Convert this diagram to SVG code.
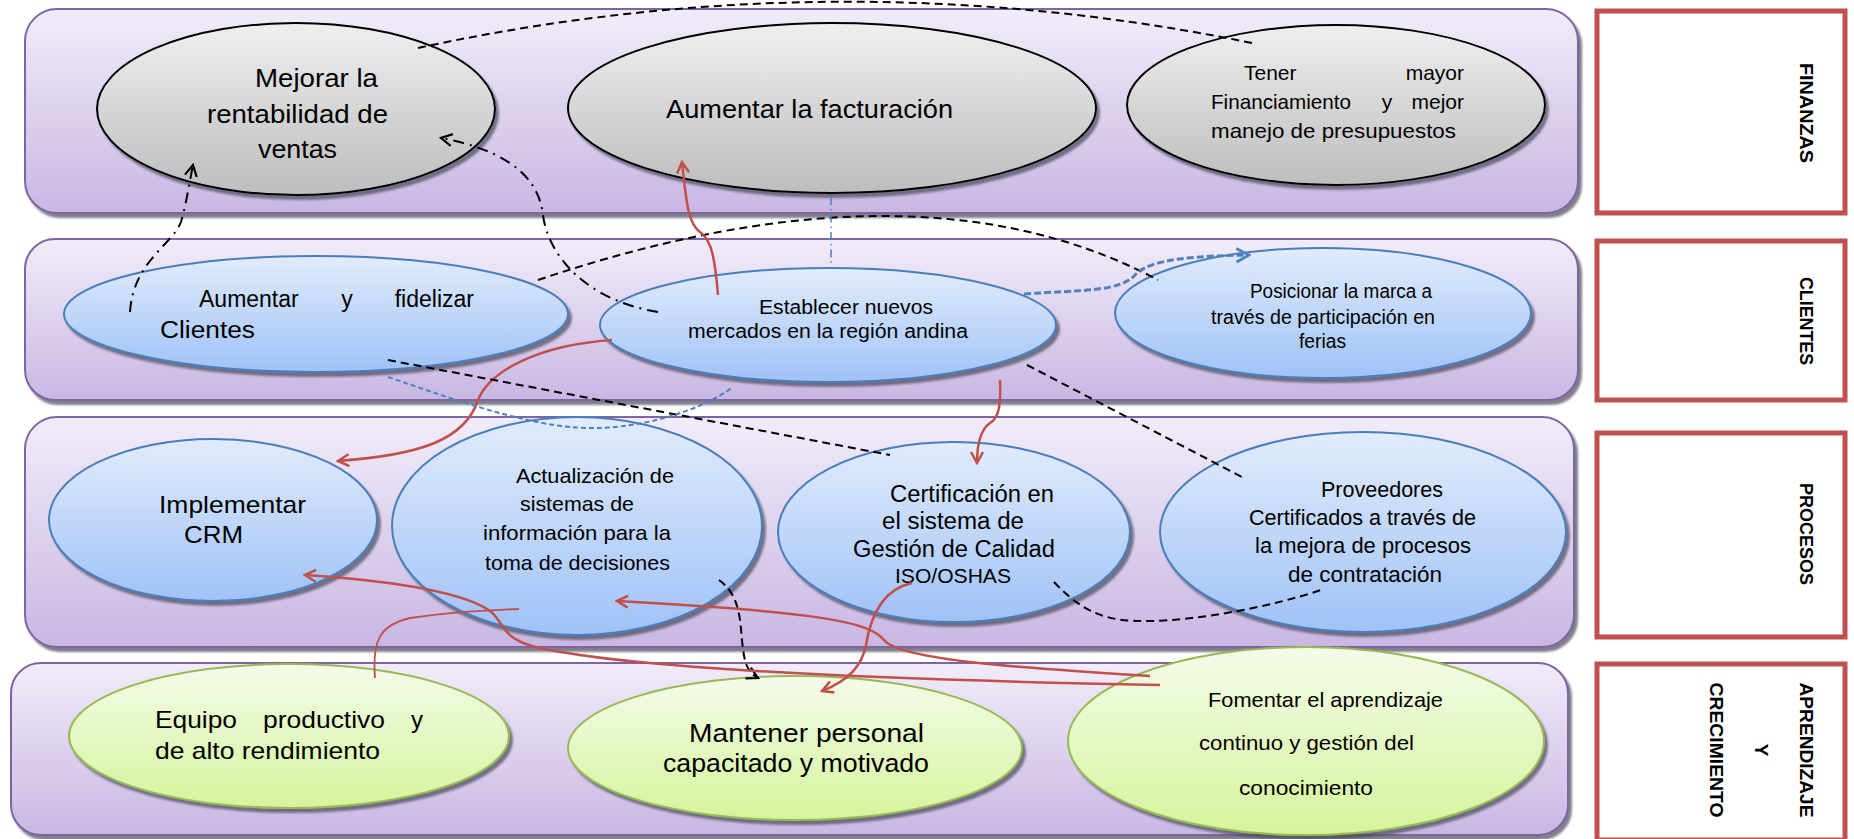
<svg xmlns="http://www.w3.org/2000/svg" width="1854" height="839" viewBox="0 0 1854 839">
  <defs>
    <linearGradient id="gBand" x1="0" y1="0" x2="0" y2="1">
      <stop offset="0" stop-color="#F1ECF9"/>
      <stop offset="1" stop-color="#C9B7E3"/>
    </linearGradient>
    <linearGradient id="gGray" x1="0" y1="0" x2="0" y2="1">
      <stop offset="0" stop-color="#EFEFEF"/>
      <stop offset="1" stop-color="#BDBDBD"/>
    </linearGradient>
    <linearGradient id="gBlue" x1="0" y1="0" x2="0" y2="1">
      <stop offset="0" stop-color="#E1ECFC"/>
      <stop offset="1" stop-color="#A0C2F7"/>
    </linearGradient>
    <linearGradient id="gGreen" x1="0" y1="0" x2="0" y2="1">
      <stop offset="0" stop-color="#F4FBEA"/>
      <stop offset="1" stop-color="#D5F49B"/>
    </linearGradient>
    <filter id="shadow" x="-10%" y="-10%" width="125%" height="130%">
      <feDropShadow dx="3" dy="4" stdDeviation="1.2" flood-color="#4a4a5a" flood-opacity="0.7"/>
    </filter>
    <marker id="arRed" viewBox="0 0 14 14" refX="12" refY="7" markerWidth="14" markerHeight="14" markerUnits="userSpaceOnUse" orient="auto">
      <path d="M1,1 L12,7 L1,13" fill="none" stroke="#C0504D" stroke-width="2.5"/>
    </marker>
    <marker id="arBlack" viewBox="0 0 14 14" refX="12" refY="7" markerWidth="14" markerHeight="14" markerUnits="userSpaceOnUse" orient="auto">
      <path d="M1,1 L12,7 L1,13" fill="none" stroke="#000" stroke-width="2.2"/>
    </marker>
    <marker id="arBlue" viewBox="0 0 14 14" refX="12" refY="7" markerWidth="16" markerHeight="16" markerUnits="userSpaceOnUse" orient="auto">
      <path d="M1,1 L12,7 L1,13" fill="none" stroke="#4F81BD" stroke-width="2.5"/>
    </marker>
  </defs>
  <style>
    .band { fill: url(#gBand); stroke: #8064A2; stroke-width: 2; filter: url(#shadow); }
    .gray { fill: url(#gGray); stroke: #000; stroke-width: 2; filter: url(#shadow); }
    .blue { fill: url(#gBlue); stroke: #4A7EBB; stroke-width: 2; filter: url(#shadow); }
    .green { fill: url(#gGreen); stroke: #98B954; stroke-width: 2; filter: url(#shadow); }
    .lbox { fill: #fff; stroke: #C0504D; stroke-width: 5; }
    text { font-family: "Liberation Sans", Arial, sans-serif; fill: #000; }
    .lab { font-weight: bold; font-size: 19px; }
    .red { fill: none; stroke: #C0504D; stroke-width: 2.5; }
    .redThin { fill: none; stroke: #C0504D; stroke-width: 1.8; }
    .dash { fill: none; stroke: #000; stroke-width: 2; stroke-dasharray: 8 5; }
    .dashDot { fill: none; stroke: #000; stroke-width: 2; stroke-dasharray: 11 6 2 6; }
    .blueDash { fill: none; stroke: #4F81BD; stroke-width: 3; stroke-dasharray: 7 3; }
    .blueThin { fill: none; stroke: #4F81BD; stroke-width: 2; stroke-dasharray: 5 3; }
    .blueDashDot { fill: none; stroke: #4F81BD; stroke-width: 1.5; stroke-dasharray: 8 4 1.5 4; }
  </style>

  <rect width="1854" height="839" fill="#fff"/>

  <!-- perspective bands -->
  <g id="bands">
    <rect class="band" x="25" y="9" width="1553" height="204" rx="32"/>
    <rect class="band" x="25" y="239" width="1553" height="161" rx="30"/>
    <rect class="band" x="25" y="417" width="1549" height="230" rx="32"/>
    <rect class="band" x="11" y="663" width="1557" height="172" rx="30"/>
  </g>

  <!-- perspective labels -->
  <g id="label-finanzas">
    <rect class="lbox" x="1597" y="11" width="248" height="202"/>
    <text class="lab" transform="translate(1800,113) rotate(90)" text-anchor="middle" textLength="100" lengthAdjust="spacingAndGlyphs">FINANZAS</text>
  </g>
  <g id="label-clientes">
    <rect class="lbox" x="1597" y="241" width="248" height="159"/>
    <text class="lab" transform="translate(1800,321) rotate(90)" text-anchor="middle" textLength="88" lengthAdjust="spacingAndGlyphs">CLIENTES</text>
  </g>
  <g id="label-procesos">
    <rect class="lbox" x="1597" y="433" width="248" height="204"/>
    <text class="lab" transform="translate(1800,534) rotate(90)" text-anchor="middle" textLength="102" lengthAdjust="spacingAndGlyphs">PROCESOS</text>
  </g>
  <g id="label-aprendizaje">
    <rect class="lbox" x="1597" y="664" width="248" height="176"/>
    <text class="lab" transform="translate(1800,750) rotate(90)" text-anchor="middle" textLength="135" lengthAdjust="spacingAndGlyphs">APRENDIZAJE</text>
    <text class="lab" transform="translate(1755,750) rotate(90)" text-anchor="middle">Y</text>
    <text class="lab" transform="translate(1710,750) rotate(90)" text-anchor="middle" textLength="135" lengthAdjust="spacingAndGlyphs">CRECIMIENTO</text>
  </g>

  <!-- FINANZAS -->
  <g id="mejorar-rentabilidad">
    <ellipse class="gray" cx="296" cy="109" rx="199" ry="86"/>
    <text x="255" y="87" font-size="26" textLength="123" lengthAdjust="spacingAndGlyphs">Mejorar la</text>
    <text x="207" y="123" font-size="26" textLength="181" lengthAdjust="spacingAndGlyphs">rentabilidad de</text>
    <text x="258" y="158" font-size="26" textLength="79" lengthAdjust="spacingAndGlyphs">ventas</text>
  </g>
  <g id="aumentar-facturacion">
    <ellipse class="gray" cx="832" cy="108" rx="264" ry="85"/>
    <text x="666" y="118" font-size="25" textLength="287" lengthAdjust="spacingAndGlyphs">Aumentar la facturación</text>
  </g>
  <g id="financiamiento">
    <ellipse class="gray" cx="1336" cy="105" rx="209" ry="80"/>
    <text x="1244" y="80" font-size="21">Tener</text>
    <text x="1464" y="80" font-size="21" text-anchor="end">mayor</text>
    <text x="1211" y="109" font-size="21" textLength="140" lengthAdjust="spacingAndGlyphs">Financiamiento</text>
    <text x="1387" y="109" font-size="21" text-anchor="middle">y</text>
    <text x="1464" y="109" font-size="21" text-anchor="end">mejor</text>
    <text x="1211" y="138" font-size="21" textLength="245" lengthAdjust="spacingAndGlyphs">manejo de  presupuestos</text>
  </g>

  <!-- CLIENTES -->
  <g id="fidelizar-clientes">
    <ellipse class="blue" cx="316" cy="314" rx="252" ry="58"/>
    <text x="199" y="307" font-size="23">Aumentar</text>
    <text x="347" y="307" font-size="23" text-anchor="middle">y</text>
    <text x="474" y="307" font-size="23" text-anchor="end">fidelizar</text>
    <text x="160" y="338" font-size="23" textLength="95" lengthAdjust="spacingAndGlyphs">Clientes</text>
  </g>
  <g id="nuevos-mercados">
    <ellipse class="blue" cx="828" cy="325" rx="228" ry="57"/>
    <text x="759" y="314" font-size="20" textLength="174" lengthAdjust="spacingAndGlyphs">Establecer nuevos</text>
    <text x="688" y="338" font-size="20" textLength="280" lengthAdjust="spacingAndGlyphs">mercados en la región andina</text>
  </g>
  <g id="posicionar-marca">
    <ellipse class="blue" cx="1323" cy="313" rx="208" ry="65"/>
    <text x="1250" y="298" font-size="20" textLength="182" lengthAdjust="spacingAndGlyphs">Posicionar la marca a</text>
    <text x="1211" y="324" font-size="20" textLength="224" lengthAdjust="spacingAndGlyphs">través de participación en</text>
    <text x="1299" y="348" font-size="20" textLength="47" lengthAdjust="spacingAndGlyphs">ferias</text>
  </g>

  <!-- PROCESOS -->
  <g id="implementar-crm">
    <ellipse class="blue" cx="213" cy="520" rx="164" ry="81"/>
    <text x="159" y="513" font-size="24" textLength="147" lengthAdjust="spacingAndGlyphs">Implementar</text>
    <text x="184" y="543" font-size="24" textLength="59" lengthAdjust="spacingAndGlyphs">CRM</text>
  </g>
  <g id="sistemas-informacion">
    <ellipse class="blue" cx="577" cy="526" rx="185" ry="109"/>
    <text x="516" y="483" font-size="21" textLength="158" lengthAdjust="spacingAndGlyphs">Actualización de</text>
    <text x="520" y="511" font-size="21" textLength="114" lengthAdjust="spacingAndGlyphs">sistemas de</text>
    <text x="483" y="540" font-size="21" textLength="188" lengthAdjust="spacingAndGlyphs">información para la</text>
    <text x="485" y="570" font-size="21" textLength="185" lengthAdjust="spacingAndGlyphs">toma de decisiones</text>
  </g>
  <g id="certificacion-calidad">
    <ellipse class="blue" cx="954" cy="532" rx="176" ry="90"/>
    <text x="890" y="502" font-size="23" textLength="164" lengthAdjust="spacingAndGlyphs">Certificación en</text>
    <text x="882" y="529" font-size="23" textLength="142" lengthAdjust="spacingAndGlyphs">el sistema de</text>
    <text x="853" y="557" font-size="23" textLength="202" lengthAdjust="spacingAndGlyphs">Gestión de Calidad</text>
    <text x="895" y="583" font-size="20" textLength="116" lengthAdjust="spacingAndGlyphs">ISO/OSHAS</text>
  </g>
  <g id="proveedores-certificados">
    <ellipse class="blue" cx="1363" cy="532" rx="203" ry="100"/>
    <text x="1321" y="497" font-size="22" textLength="122" lengthAdjust="spacingAndGlyphs">Proveedores</text>
    <text x="1249" y="525" font-size="22" textLength="227" lengthAdjust="spacingAndGlyphs">Certificados a través de</text>
    <text x="1255" y="553" font-size="22" textLength="216" lengthAdjust="spacingAndGlyphs">la mejora de procesos</text>
    <text x="1288" y="582" font-size="22" textLength="154" lengthAdjust="spacingAndGlyphs">de contratación</text>
  </g>

  <!-- APRENDIZAJE Y CRECIMIENTO -->
  <g id="equipo-productivo">
    <ellipse class="green" cx="289" cy="736" rx="220" ry="72"/>
    <text x="155" y="728" font-size="24" textLength="82" lengthAdjust="spacingAndGlyphs">Equipo</text>
    <text x="263" y="728" font-size="24" textLength="122" lengthAdjust="spacingAndGlyphs">productivo</text>
    <text x="423" y="728" font-size="24" text-anchor="end">y</text>
    <text x="155" y="759" font-size="24" textLength="225" lengthAdjust="spacingAndGlyphs">de alto rendimiento</text>
  </g>
  <g id="personal-capacitado">
    <ellipse class="green" cx="795" cy="748" rx="227" ry="72"/>
    <text x="689" y="742" font-size="25" textLength="235" lengthAdjust="spacingAndGlyphs">Mantener personal</text>
    <text x="663" y="772" font-size="25" textLength="266" lengthAdjust="spacingAndGlyphs">capacitado y motivado</text>
  </g>
  <g id="aprendizaje-continuo">
    <ellipse class="green" cx="1306" cy="741" rx="238" ry="94"/>
    <text x="1208" y="707" font-size="21" textLength="235" lengthAdjust="spacingAndGlyphs">Fomentar el aprendizaje</text>
    <text x="1199" y="750" font-size="21" textLength="215" lengthAdjust="spacingAndGlyphs">continuo y gestión del</text>
    <text x="1239" y="795" font-size="21" textLength="134" lengthAdjust="spacingAndGlyphs">conocimiento</text>
  </g>

  <!-- cause-effect links -->
  <g id="connectors">
    <path class="dash" d="M418,48 Q835,-42 1252,43"/>
    <path class="dash" d="M538,280 C760,205 980,185 1158,280"/>
    <path class="dashDot" marker-end="url(#arBlack)" d="M130,312 C133,262 172,245 181,222 C186,205 189,185 193,165"/>
    <path class="dashDot" marker-end="url(#arBlack)" d="M658,312 C585,300 548,255 543,215 C538,170 495,148 441,138"/>
    <path class="red" marker-end="url(#arRed)" d="M718,295 C715,260 712,240 700,232 C688,224 686,200 682,162"/>
    <path class="blueDashDot" d="M831,197 L831,268"/>
    <path class="blueDash" marker-end="url(#arBlue)" d="M1024,294 C1080,290 1120,292 1135,275 C1150,258 1200,256 1249,255"/>
    <path class="red" marker-end="url(#arRed)" d="M612,340 C540,345 490,370 478,400 C465,440 420,455 338,461"/>
    <path class="dash" d="M388,360 L890,455"/>
    <path class="blueThin" d="M388,377 C470,405 540,430 600,428 C650,426 700,410 732,388"/>
    <path class="red" marker-end="url(#arRed)" d="M1000,380 C1001,405 999,418 990,423 C980,430 977,445 977,463"/>
    <path class="dash" d="M1027,365 L1244,478"/>
    <path class="dash" stroke-width="2.5" d="M1054,582 C1085,615 1110,622 1150,621 C1200,620 1270,607 1321,590"/>
    <path class="dash" marker-end="url(#arBlack)" d="M719,580 C740,595 740,620 742,640 C744,660 746,672 758,678"/>
    <path class="redThin" d="M375,678 C372,640 380,625 410,618 C450,612 490,610 519,609"/>
    <path class="red" marker-end="url(#arRed)" d="M1150,676 C1020,668 900,660 884,640 C870,622 820,612 617,601"/>
    <path class="red" marker-end="url(#arRed)" d="M1160,685 C900,680 640,670 540,648 C500,640 505,622 490,611 C460,590 380,580 305,575"/>
    <path class="red" marker-end="url(#arRed)" d="M912,583 C880,590 870,620 866,645 C862,665 850,680 822,691"/>
  </g>
</svg>
